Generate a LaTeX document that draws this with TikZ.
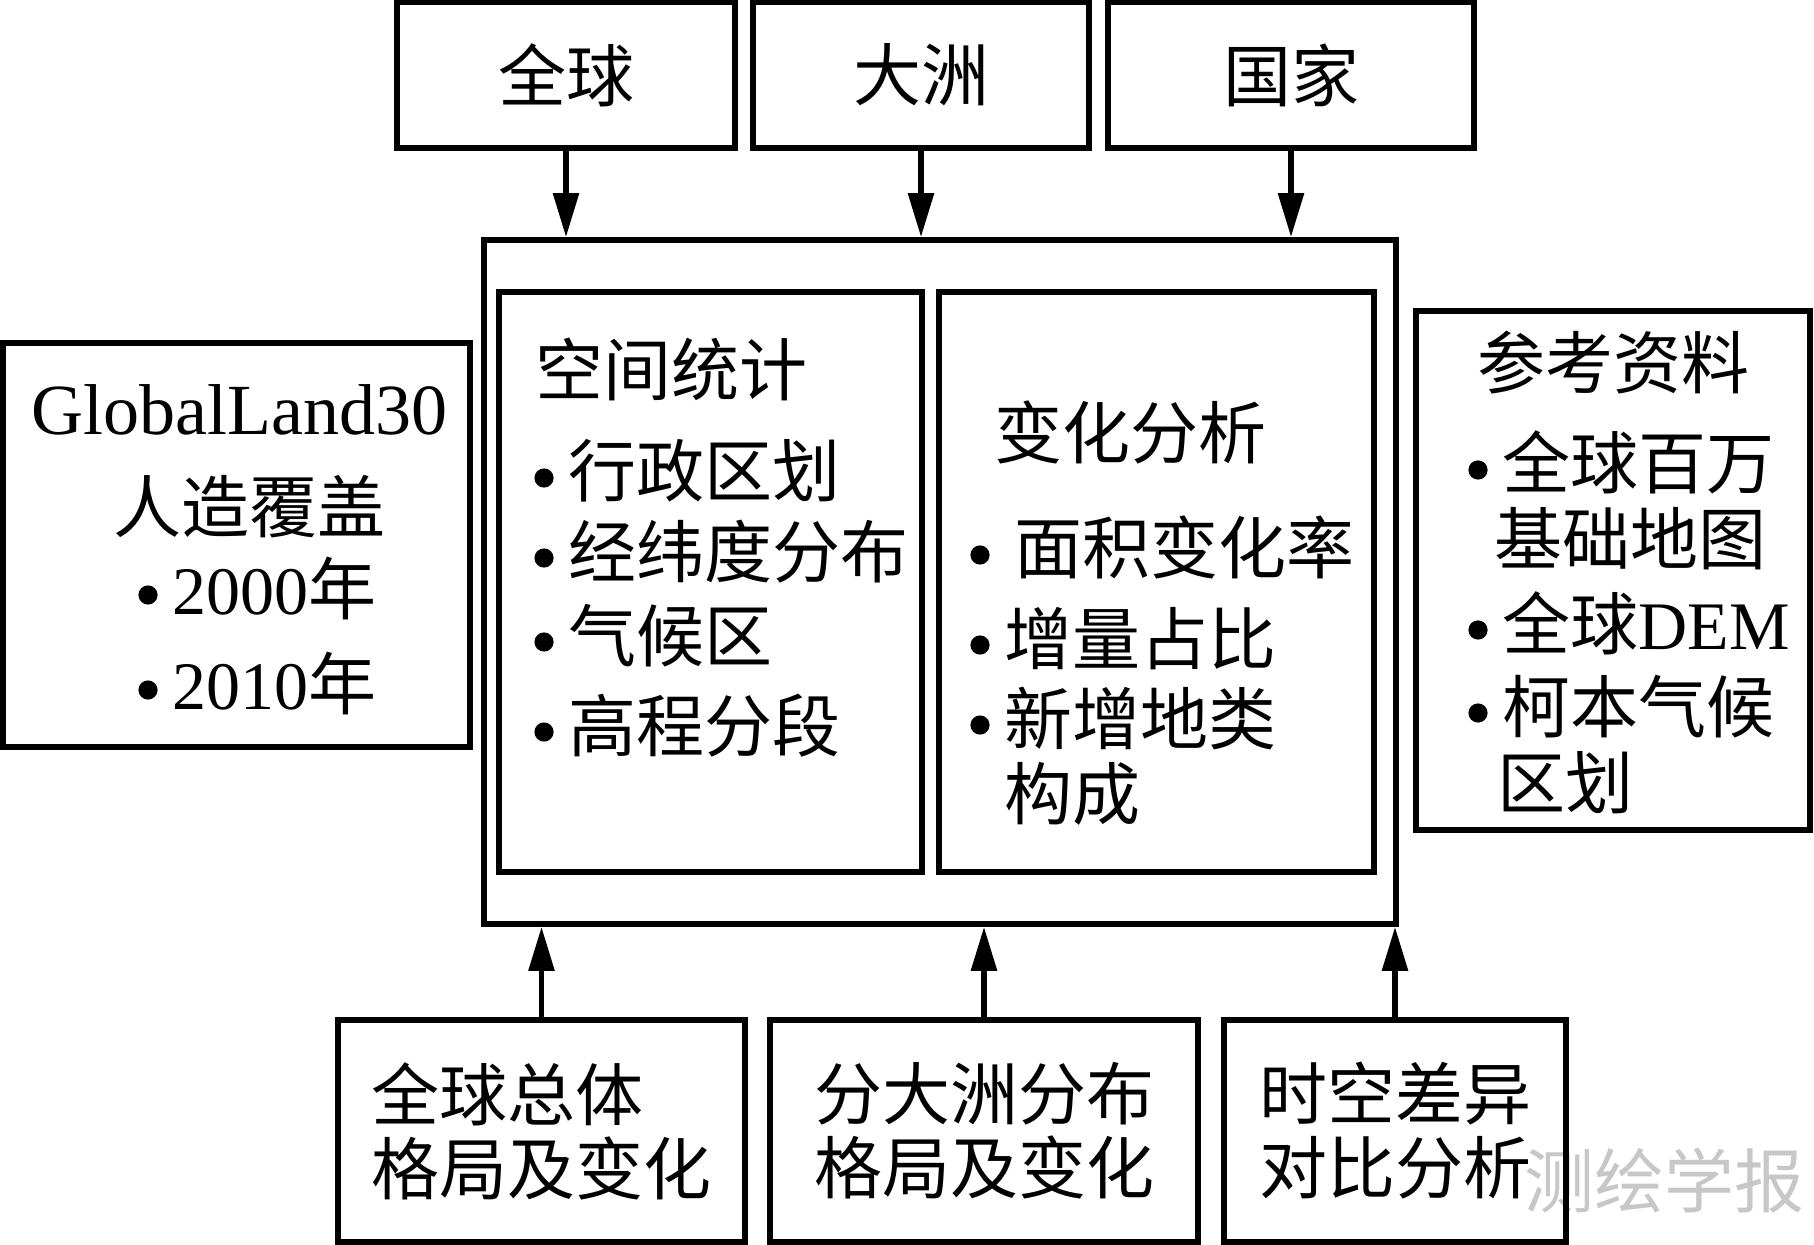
\documentclass[tikz,border=0pt]{standalone}
\usepackage{fontspec}
\setmainfont{Noto Sans CJK SC}
\newfontfamily\latin{Liberation Serif}
\usetikzlibrary{arrows.meta}
\newcommand{\itemdot}{\makebox[17pt][l]{\tikz[baseline=0pt]\fill (4.8pt,9.5pt) circle (4.8pt);}}
\tikzset{
  box/.style={draw, line width=2.8pt, inner sep=0pt},
  txt/.style={anchor=west, inner sep=0pt, text height=29pt, text depth=5pt},
  arr/.style={line width=2.8pt, -{Triangle[length=22pt,width=12.5pt]}},
}
\begin{document}
\begin{tikzpicture}[x=0.5pt,y=-0.5pt,font=\fontsize{34}{37}\selectfont]
\useasboundingbox (0,0) rectangle (1814,1245);
\node[txt, text=black!22, font=\fontsize{35}{37}\selectfont] (mark) at (1524,1183) {测绘学报};
% top row
\node[box, minimum width=169pt, minimum height=73pt] (quanqiu) at (566,75) {全球};
\node[box, minimum width=168pt, minimum height=73pt] (dazhou) at (921,75) {大洲};
\node[box, minimum width=183pt, minimum height=73pt] (guojia) at (1291,75) {国家};
% middle row
\node[box, minimum width=456pt, minimum height=342pt] (main) at (940,582) {};
\node[box, minimum width=211.5pt, minimum height=290pt] (tongji) at (710.5,582) {};
\node[box, minimum width=217.5pt, minimum height=290pt] (bianhua) at (1156.5,582) {};
\node[box, minimum width=233.5pt, minimum height=202pt] (data) at (236.5,545) {};
\node[box, minimum width=197pt, minimum height=259.5pt] (ziliao) at (1613,570.5) {};
% bottom row
\node[box, minimum width=203.5pt, minimum height=111pt, align=left] (zongti) at (541.5,1131) {全球总体\\格局及变化};
\node[box, minimum width=214pt, minimum height=111pt, align=left] (fenzhou) at (984,1131) {分大洲分布\\格局及变化};
\node[box, minimum width=171pt, minimum height=111pt, align=left] (chayi) at (1395,1131) {时空差异\\对比分析};
% arrows
\draw[arr] (quanqiu) -- (quanqiu |- main.north);
\draw[arr] (dazhou) -- (dazhou |- main.north);
\draw[arr] (guojia) -- (guojia |- main.north);
\draw[arr] (zongti) -- (zongti |- main.south);
\draw[arr] (fenzhou) -- (fenzhou |- main.south);
\draw[arr] (chayi) -- (chayi |- main.south);
% data box
\node[txt, font=\fontsize{36}{40}\selectfont] (gl) at (31,411) {\latin GlobalLand30};
\node[txt] (rzfg) at (113,508) {人造覆盖};
\node[txt] (y2000) at (138,590) {\itemdot{\latin 2000}年};
\node[txt] (y2010) at (138,685) {\itemdot{\latin 2010}年};
% spatial statistics
\node[txt] (tjt) at (535,372) {空间统计};
\node[txt] (tj1) at (534,473) {\itemdot 行政区划};
\node[txt] (tj2) at (534,553) {\itemdot 经纬度分布};
\node[txt] (tj3) at (534,637) {\itemdot 气候区};
\node[txt] (tj4) at (534,727) {\itemdot 高程分段};
% change analysis
\node[txt] (bht) at (994,435) {变化分析};
\node[txt] (bh1) at (970,550) {\itemdot\hspace{5pt}面积变化率};
\node[txt] (bh2) at (970,640) {\itemdot 增量占比};
\node[txt] (bh3) at (970,720) {\itemdot 新增地类};
\node[txt] (bh4) at (1004,795) {构成};
% references
\node[txt] (zlt) at (1477,365) {参考资料};
\node[txt] (zl1) at (1468,465) {\itemdot 全球百万};
\node[txt] (zl2) at (1494,540) {基础地图};
\node[txt] (zl3) at (1468,625) {\itemdot 全球{\latin DEM}};
\node[txt] (zl4) at (1468,708) {\itemdot 柯本气候};
\node[txt] (zl5) at (1497,784) {区划};
\end{tikzpicture}
\end{document}
